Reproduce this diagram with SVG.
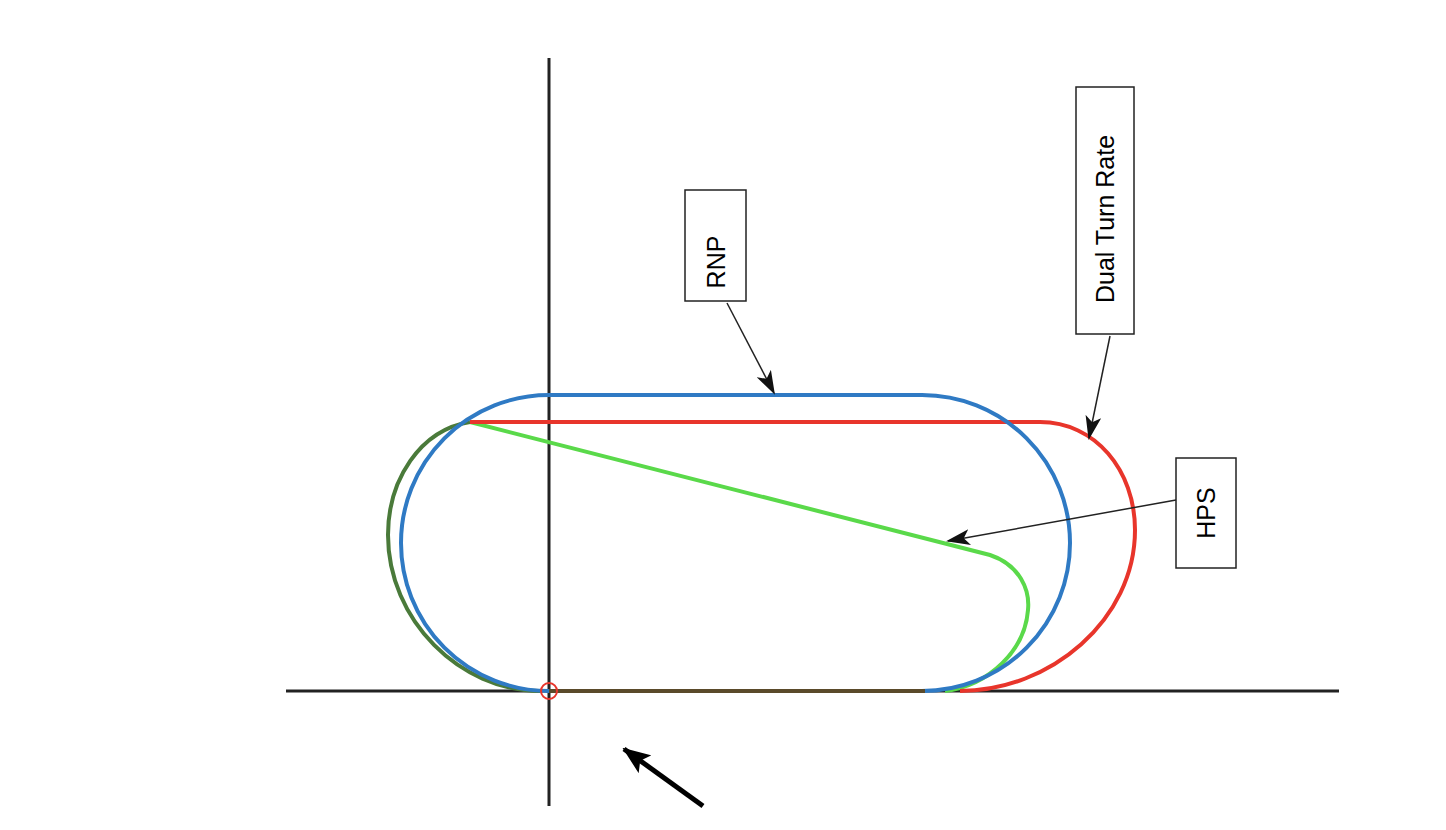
<svg xmlns="http://www.w3.org/2000/svg" width="1446" height="830" viewBox="0 0 1446 830">
<style>
.ax{stroke:#222;stroke-width:3;fill:none}
.c{fill:none;stroke-width:4}
.box{fill:#fff;stroke:#222;stroke-width:1.5}
.lbl{font-family:"Liberation Sans",Arial,sans-serif;font-size:25px;fill:#000}
.ar{stroke:#222;stroke-width:1.5;fill:none;marker-end:url(#ah)}
</style>
<defs>
<marker id="ah" markerWidth="24" markerHeight="16" refX="22" refY="8" orient="auto" markerUnits="userSpaceOnUse"><path d="M0,0 L24,8 L0,16 L6,8 Z" fill="#111"/></marker>
<marker id="ah2" markerWidth="28" markerHeight="22" refX="26" refY="11" orient="auto" markerUnits="userSpaceOnUse"><path d="M0,0 L28,11 L0,22 L6,11 Z" fill="#000"/></marker>
</defs>
<rect width="1446" height="830" fill="#fff"/>
<g id="axes">
<line class="ax" x1="286" y1="691" x2="1339" y2="691"/>
<line class="ax" x1="549" y1="58" x2="549" y2="806"/>
</g>
<g id="paths">
<path id="hps" class="c" stroke="#5ad94a" d="M470,422 L990,555 C1020,565 1030,590 1028,610 C1025,650 990,685 945,691"/>
<path id="hps-left" class="c" stroke="#4a7a3a" d="M470,422 C420,430 388,480 388,535 C388,620 460,691 540,691"/>
<path id="dtr" class="c" stroke="#e8352b" d="M470,422 L1040,422 C1095,422 1135,470 1135,530 C1135,620 1050,691 960,691"/>
<path id="rnp" class="c" stroke="#2f7ac4" d="M549,395 L922,395 A148,148 0 0 1 922,691 L549,691 A148,148 0 0 1 549,395 Z"/>
<line class="c" stroke="#5a4a2a" x1="549" y1="691" x2="925" y2="691"/>
<circle cx="549" cy="691" r="8" fill="none" stroke="#e8352b" stroke-width="2"/>
</g>
<g id="node-rnp">
<rect class="box" x="685" y="190" width="61" height="111"/>
<text class="lbl" transform="translate(725,262) rotate(-90)" text-anchor="middle">RNP</text>
</g>
<g id="node-dtr">
<rect class="box" x="1076" y="87" width="58" height="247"/>
<text class="lbl" transform="translate(1114,219) rotate(-90)" text-anchor="middle">Dual Turn Rate</text>
</g>
<g id="node-hps">
<rect class="box" x="1176" y="458" width="60" height="110"/>
<text class="lbl" transform="translate(1215,513) rotate(-90)" text-anchor="middle">HPS</text>
</g>
<g id="connectors">
<line class="ar" x1="727" y1="303" x2="774" y2="393"/>
<line class="ar" x1="1110" y1="336" x2="1089" y2="438"/>
<line class="ar" x1="1176" y1="500" x2="948" y2="541"/>
<line stroke="#000" stroke-width="5" x1="703" y1="806" x2="624" y2="749" marker-end="url(#ah2)"/>
</g>
</svg>
